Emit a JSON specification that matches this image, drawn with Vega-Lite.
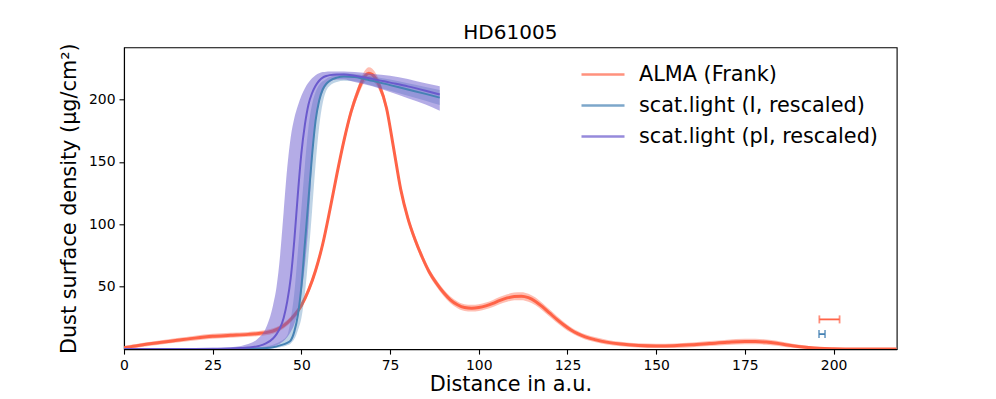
{
  "$schema": "https://vega.github.io/schema/vega-lite/v6.json",
  "width": 772.7,
  "height": 301.8,
  "autosize": {"type": "none"},
  "padding": {"left": 124, "top": 47.3, "right": 99.3, "bottom": 49.9},
  "title": {"text": "HD61005", "fontSize": 20, "fontWeight": "normal", "font": "DejaVu Sans", "color": "black", "offset": 0, "anchor": "middle"},
  "datasets": {
    "alma": [
      {"x":0,"y":1.0,"lo":0,"hi":2.4},{"x":2,"y":2.0,"lo":0.6,"hi":3.4},{"x":5,"y":3.3,"lo":1.7,"hi":4.9},{"x":10,"y":5.2,"lo":3.5,"hi":6.9},{"x":15,"y":7.0,"lo":5.2,"hi":8.8},{"x":20,"y":8.8,"lo":6.9,"hi":10.7},{"x":25,"y":10.2,"lo":8.2,"hi":12.2},{"x":30,"y":11.0,"lo":9.0,"hi":13.0},{"x":35,"y":11.8,"lo":9.8,"hi":13.8},{"x":38,"y":12.5,"lo":10.5,"hi":14.5},{"x":40,"y":13.2,"lo":11.1,"hi":15.3},{"x":42,"y":14.5,"lo":12.3,"hi":16.7},{"x":44,"y":17,"lo":14.8,"hi":19.2},{"x":46,"y":21,"lo":18.7,"hi":23.3},{"x":48,"y":27,"lo":24.6,"hi":29.4},{"x":50,"y":35,"lo":32.5,"hi":37.5},{"x":52,"y":47,"lo":44.3,"hi":49.7},{"x":54,"y":63,"lo":60,"hi":66},{"x":56,"y":84,"lo":80.8,"hi":87.2},{"x":58,"y":111,"lo":107.7,"hi":114.3},{"x":60,"y":140,"lo":136.6,"hi":143.4},{"x":62,"y":167,"lo":163.5,"hi":170.5},{"x":64,"y":190,"lo":186.2,"hi":193.8},{"x":66,"y":207,"lo":203,"hi":211},{"x":67,"y":214,"lo":209.6,"hi":218.4},{"x":68,"y":219,"lo":214.3,"hi":223.7},{"x":69,"y":221,"lo":216.1,"hi":225.9},{"x":70,"y":220,"lo":215.3,"hi":224.7},{"x":71,"y":216.5,"lo":212.1,"hi":220.9},{"x":72,"y":211,"lo":206.8,"hi":215.2},{"x":74,"y":193,"lo":189.3,"hi":196.7},{"x":76,"y":161,"lo":157.6,"hi":164.4},{"x":78,"y":128,"lo":124.8,"hi":131.2},{"x":80,"y":105,"lo":101.8,"hi":108.2},{"x":82,"y":88,"lo":85,"hi":91},{"x":84,"y":74,"lo":71.1,"hi":76.9},{"x":86,"y":62,"lo":59.2,"hi":64.8},{"x":88,"y":53,"lo":50.3,"hi":55.7},{"x":90,"y":45.5,"lo":42.8,"hi":48.2},{"x":92,"y":39.5,"lo":36.8,"hi":42.2},{"x":94,"y":35.5,"lo":32.8,"hi":38.2},{"x":96,"y":33.3,"lo":30.6,"hi":36},{"x":98,"y":32.8,"lo":30.1,"hi":35.5},{"x":100,"y":33.3,"lo":30.6,"hi":36},{"x":102,"y":34.6,"lo":31.9,"hi":37.3},{"x":104,"y":36.6,"lo":33.8,"hi":39.4},{"x":106,"y":39,"lo":36.1,"hi":41.9},{"x":108,"y":41,"lo":38,"hi":44},{"x":110,"y":42.2,"lo":39.1,"hi":45.3},{"x":112,"y":42.4,"lo":39.2,"hi":45.6},{"x":114,"y":41.2,"lo":38,"hi":44.4},{"x":116,"y":38.2,"lo":35.1,"hi":41.3},{"x":118,"y":33.8,"lo":30.8,"hi":36.8},{"x":120,"y":28.8,"lo":25.9,"hi":31.7},{"x":122,"y":23.8,"lo":21.1,"hi":26.5},{"x":124,"y":19.3,"lo":16.8,"hi":21.8},{"x":126,"y":15.3,"lo":13,"hi":17.6},{"x":128,"y":12.2,"lo":10,"hi":14.4},{"x":130,"y":9.8,"lo":7.7,"hi":11.9},{"x":133,"y":7.4,"lo":5.4,"hi":9.4},{"x":136,"y":5.6,"lo":3.7,"hi":7.5},{"x":140,"y":4,"lo":2.2,"hi":5.8},{"x":145,"y":2.9,"lo":1.2,"hi":4.6},{"x":150,"y":2.5,"lo":0.8,"hi":4.2},{"x":155,"y":2.7,"lo":0.9,"hi":4.5},{"x":160,"y":3.4,"lo":1.5,"hi":5.3},{"x":165,"y":4.4,"lo":2.4,"hi":6.4},{"x":170,"y":5.4,"lo":3.3,"hi":7.5},{"x":175,"y":6.1,"lo":3.9,"hi":8.3},{"x":178,"y":6.1,"lo":3.9,"hi":8.3},{"x":181,"y":5.6,"lo":3.5,"hi":7.7},{"x":184,"y":4.6,"lo":2.6,"hi":6.6},{"x":187,"y":3.3,"lo":1.5,"hi":5.1},{"x":190,"y":2.1,"lo":0.6,"hi":3.6},{"x":193,"y":1.2,"lo":0,"hi":2.5},{"x":196,"y":0.6,"lo":0,"hi":1.7},{"x":200,"y":0.25,"lo":0,"hi":1.0},{"x":205,"y":0.08,"lo":0,"hi":0.5},{"x":210,"y":0.03,"lo":0,"hi":0.25},{"x":217.8,"y":0.01,"lo":0,"hi":0.12}
    ],
    "scatI": [
      {"x":0,"y":0.02,"lo":0,"hi":0.05},{"x":20,"y":0.05,"lo":0,"hi":0.2},{"x":30,"y":0.1,"lo":0,"hi":0.5},{"x":38,"y":0.5,"lo":0.1,"hi":1.5},{"x":42,"y":1.5,"lo":0.6,"hi":3.5},{"x":44,"y":3,"lo":1.5,"hi":6},{"x":46,"y":5,"lo":3,"hi":11},{"x":47,"y":7,"lo":4.5,"hi":24},{"x":48,"y":14,"lo":8,"hi":45},{"x":49,"y":27,"lo":15,"hi":78},{"x":50,"y":50,"lo":25,"hi":113},{"x":51,"y":85,"lo":45,"hi":148},{"x":52,"y":120,"lo":75,"hi":178},{"x":53,"y":155,"lo":110,"hi":196},{"x":54,"y":183,"lo":148,"hi":206},{"x":55,"y":199,"lo":178,"hi":211.5},{"x":56,"y":208,"lo":197,"hi":214.5},{"x":57,"y":212.5,"lo":207,"hi":216.5},{"x":58,"y":215,"lo":211,"hi":218},{"x":60,"y":217.5,"lo":214,"hi":220},{"x":62,"y":218.5,"lo":215,"hi":221},{"x":65,"y":218,"lo":214.5,"hi":220.5},{"x":70,"y":215,"lo":211,"hi":218.5},{"x":75,"y":211.5,"lo":207,"hi":216},{"x":80,"y":208,"lo":203,"hi":213},{"x":85,"y":204.5,"lo":199,"hi":210},{"x":89,"y":201.5,"lo":195.5,"hi":207.5}
    ],
    "scatPI": [
      {"x":0,"y":0.05,"lo":0,"hi":0.1},{"x":10,"y":0.05,"lo":0,"hi":0.15},{"x":20,"y":0.1,"lo":0,"hi":0.3},{"x":25,"y":0.2,"lo":0,"hi":0.7},{"x":30,"y":0.4,"lo":0,"hi":1.5},{"x":33,"y":0.8,"lo":0.1,"hi":2.5},{"x":35,"y":1.2,"lo":0.2,"hi":4},{"x":38,"y":2.5,"lo":0.5,"hi":9},{"x":40,"y":4.5,"lo":1,"hi":17},{"x":42,"y":8.5,"lo":2,"hi":35},{"x":43,"y":12,"lo":3,"hi":50},{"x":44,"y":17,"lo":4.5,"hi":75},{"x":45,"y":25,"lo":6.5,"hi":110},{"x":46,"y":38,"lo":9.5,"hi":145},{"x":47,"y":57,"lo":14,"hi":170},{"x":48,"y":87,"lo":20,"hi":185},{"x":49,"y":124,"lo":30,"hi":195},{"x":50,"y":157,"lo":45,"hi":203},{"x":51,"y":180,"lo":68,"hi":209},{"x":52,"y":196,"lo":100,"hi":213.5},{"x":53,"y":205,"lo":150,"hi":217},{"x":54,"y":211,"lo":180,"hi":219.5},{"x":55,"y":215,"lo":197,"hi":221},{"x":56,"y":217.5,"lo":206,"hi":222},{"x":57,"y":218.8,"lo":211,"hi":222.3},{"x":58,"y":219.5,"lo":214,"hi":222.5},{"x":60,"y":220,"lo":216,"hi":222.5},{"x":62,"y":220,"lo":216,"hi":222.5},{"x":65,"y":219,"lo":214,"hi":222},{"x":70,"y":216.5,"lo":210.5,"hi":220.5},{"x":75,"y":213.5,"lo":206,"hi":219},{"x":80,"y":210.5,"lo":201,"hi":216.5},{"x":85,"y":207,"lo":196,"hi":213},{"x":89,"y":204,"lo":191,"hi":210.5}
    ],
    "errbars": [
      {"series":"ALMA (Frank)","xlo":196,"xhi":201.7,"y":23.8},
      {"series":"scat.light (I, rescaled)","xlo":195.9,"xhi":197.6,"y":12}
    ]
  },
  "layer": [
    {
      "data": {"name": "alma"},
      "mark": {"type": "area", "color": "#ff6347", "opacity": 0.42, "interpolate": "monotone", "clip": true},
      "encoding": {
        "x": {"field": "x", "type": "quantitative", "title": "Distance in a.u.", "scale": {"domain": [0, 217.8], "nice": false, "zero": false},
              "axis": {"values": [0,25,50,75,100,125,150,175,200], "labelFlush": false, "labelOverlap": false}},
        "y": {"field": "hi", "type": "quantitative", "title": "Dust surface density (μg/cm²)", "scale": {"domain": [0, 241.8], "nice": false, "zero": false},
              "axis": {"values": [50,100,150,200], "labelOverlap": false}},
        "y2": {"field": "lo"}
      }
    },
    {
      "data": {"name": "alma"},
      "mark": {"type": "line", "strokeWidth": 3, "interpolate": "monotone", "clip": true},
      "encoding": {
        "x": {"field": "x", "type": "quantitative", "title": "Distance in a.u."},
        "y": {"field": "y", "type": "quantitative", "title": "Dust surface density (μg/cm²)"},
        "color": {"datum": "ALMA (Frank)", "type": "nominal", "title": null,
          "scale": {"domain": ["ALMA (Frank)", "scat.light (I, rescaled)", "scat.light (pI, rescaled)"], "range": ["#ff6347", "#4682b4", "#6a5acd"]},
          "legend": {"orient": "none", "legendX": 456, "legendY": 12, "title": null, "symbolType": "stroke", "symbolSize": 1850, "symbolStrokeWidth": 2.4, "symbolOpacity": 1, "labelFontSize": 20.8, "labelOffset": 13, "clipHeight": 30.5, "rowPadding": 0, "labelFont": "DejaVu Sans", "labelColor": "black", "labelLimit": 400}}
      }
    },
    {
      "data": {"name": "scatI"},
      "mark": {"type": "area", "color": "#4682b4", "opacity": 0.35, "interpolate": "monotone", "clip": true},
      "encoding": {
        "x": {"field": "x", "type": "quantitative", "title": "Distance in a.u."},
        "y": {"field": "hi", "type": "quantitative", "title": "Dust surface density (μg/cm²)"},
        "y2": {"field": "lo"}
      }
    },
    {
      "data": {"name": "scatPI"},
      "mark": {"type": "area", "color": "#6a5acd", "opacity": 0.5, "interpolate": "monotone", "clip": true},
      "encoding": {
        "x": {"field": "x", "type": "quantitative", "title": "Distance in a.u."},
        "y": {"field": "hi", "type": "quantitative", "title": "Dust surface density (μg/cm²)"},
        "y2": {"field": "lo"}
      }
    },
    {
      "data": {"name": "scatI"},
      "mark": {"type": "line", "strokeWidth": 2, "interpolate": "monotone", "clip": true},
      "encoding": {
        "x": {"field": "x", "type": "quantitative", "title": "Distance in a.u."},
        "y": {"field": "y", "type": "quantitative", "title": "Dust surface density (μg/cm²)"},
        "color": {"datum": "scat.light (I, rescaled)", "type": "nominal", "title": null}
      }
    },
    {
      "data": {"name": "scatPI"},
      "mark": {"type": "line", "strokeWidth": 2, "interpolate": "monotone", "clip": true},
      "encoding": {
        "x": {"field": "x", "type": "quantitative", "title": "Distance in a.u."},
        "y": {"field": "y", "type": "quantitative", "title": "Dust surface density (μg/cm²)"},
        "color": {"datum": "scat.light (pI, rescaled)", "type": "nominal", "title": null}
      }
    },
    {
      "data": {"name": "errbars"},
      "mark": {"type": "rule", "strokeWidth": 1.8},
      "encoding": {
        "x": {"field": "xlo", "type": "quantitative", "title": "Distance in a.u."},
        "x2": {"field": "xhi"},
        "y": {"field": "y", "type": "quantitative", "title": "Dust surface density (μg/cm²)"},
        "color": {"field": "series", "type": "nominal", "title": null}
      }
    },
    {
      "data": {"name": "errbars"},
      "mark": {"type": "tick", "orient": "vertical", "size": 8, "thickness": 1.8},
      "encoding": {
        "x": {"field": "xlo", "type": "quantitative", "title": "Distance in a.u."},
        "y": {"field": "y", "type": "quantitative", "title": "Dust surface density (μg/cm²)"},
        "color": {"field": "series", "type": "nominal", "title": null}
      }
    },
    {
      "data": {"name": "errbars"},
      "mark": {"type": "tick", "orient": "vertical", "size": 8, "thickness": 1.8},
      "encoding": {
        "x": {"field": "xhi", "type": "quantitative", "title": "Distance in a.u."},
        "y": {"field": "y", "type": "quantitative", "title": "Dust surface density (μg/cm²)"},
        "color": {"field": "series", "type": "nominal", "title": null}
      }
    }
  ],
  "config": {
    "font": "DejaVu Sans",
    "background": "white",
    "view": {"stroke": "black", "strokeWidth": 1.1},
    "axis": {"domainColor": "black", "domainWidth": 1.1, "tickColor": "black", "tickWidth": 1.1, "tickSize": 5, "labelColor": "black", "labelFontSize": 13.9, "labelPadding": 4, "titleColor": "black", "titleFontSize": 20.8, "titleFontWeight": "normal", "grid": false, "labelFont": "DejaVu Sans", "titleFont": "DejaVu Sans"},
    "axisX": {"titlePadding": 3},
    "axisY": {"titlePadding": 9}
  }
}
